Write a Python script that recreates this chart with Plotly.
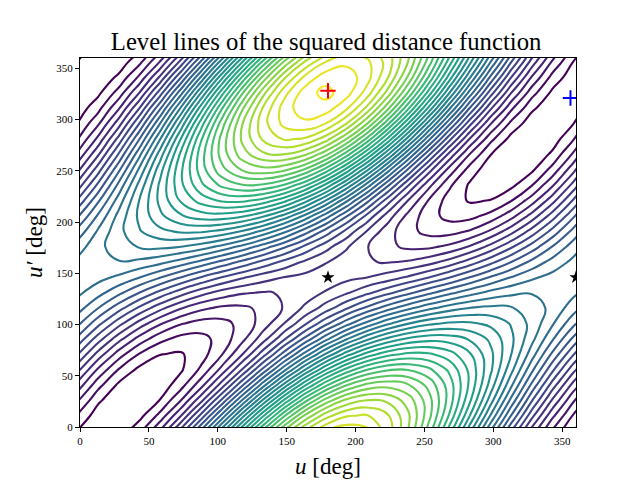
import plotly.graph_objects as go

u_deg = [-2, 13, 28, 43, 58, 73, 88, 103, 118, 133, 148, 163, 178, 193, 208, 223, 238, 253, 268, 283, 298, 313, 328, 343, 358, 373]
up_deg = [-4, 11, 26, 41, 56, 71, 86, 101, 116, 131, 146, 161, 176, 191, 206, 221, 236, 251, 266, 281, 296, 311, 326, 341, 356, 371]
squared_distance = [
    [.97,.14,.39,1.72,4.06,7.30,11.23,15.59,20.08,24.36,28.13,31.08,33.00,33.75,33.28,31.65,29.00,25.54,21.53,17.25,12.98,9.00,5.54,2.81,.97,.14],
    [1.90,.46,.02,.64,2.30,4.91,8.33,12.32,16.62,20.88,24.82,28.12,30.53,31.89,32.11,31.18,29.23,26.39,22.90,18.98,14.91,10.94,7.31,4.23,1.90,.46],
    [3.15,1.21,.16,.09,1.03,2.94,5.73,9.21,13.13,17.20,21.12,24.59,27.35,29.21,30.04,29.81,28.58,26.44,23.57,20.17,16.48,12.70,9.08,5.83,3.15,1.21],
    [4.66,2.37,.81,.12,.36,1.55,3.63,6.48,9.88,13.57,17.30,20.76,23.70,25.91,27.25,27.64,27.11,25.70,23.53,20.77,17.59,14.19,10.76,7.52,4.66,2.37],
    [6.35,3.87,1.95,.74,.36,.84,2.20,4.34,7.11,10.29,13.65,16.91,19.85,22.25,23.95,24.85,24.95,24.24,22.80,20.74,18.20,15.31,12.25,9.21,6.35,3.87],
    [8.10,5.63,3.51,1.94,1.03,.89,1.54,2.95,5.01,7.56,10.41,13.32,16.07,18.47,20.36,21.63,22.24,22.17,21.43,20.11,18.26,16.01,13.46,10.78,8.10,5.63],
    [9.80,7.50,5.38,3.60,2.33,1.66,1.68,2.39,3.73,5.58,7.81,10.20,12.60,14.82,16.73,18.19,19.18,19.62,19.52,18.89,17.78,16.22,14.30,12.12,9.80,7.50],
    [11.30,9.35,7.40,5.61,4.14,3.10,2.60,2.68,3.32,4.46,5.99,7.77,9.67,11.54,13.28,14.76,15.94,16.75,17.17,17.17,16.75,15.91,14.68,13.12,11.30,9.35],
    [12.48,11.03,9.42,7.81,6.32,5.09,4.22,3.78,3.80,4.24,5.07,6.17,7.45,8.83,10.22,11.53,12.72,13.73,14.52,15.03,15.24,15.09,14.57,13.69,12.48,11.03],
    [13.24,12.39,11.28,10.00,8.69,7.45,6.39,5.59,5.10,4.93,5.07,5.46,6.07,6.84,7.74,8.70,9.72,10.74,11.72,12.60,13.31,13.77,13.94,13.77,13.24,12.39],
    [13.50,13.33,12.82,12.04,11.08,10.01,8.95,7.97,7.13,6.45,5.98,5.70,5.60,5.70,5.98,6.45,7.13,7.97,8.95,10.01,11.08,12.04,12.82,13.33,13.50,13.33],
    [13.24,13.77,13.94,13.77,13.31,12.60,11.72,10.74,9.72,8.70,7.74,6.84,6.07,5.46,5.07,4.93,5.10,5.59,6.39,7.45,8.69,10.00,11.28,12.39,13.24,13.77],
    [12.48,13.69,14.57,15.09,15.24,15.03,14.52,13.73,12.72,11.53,10.22,8.83,7.45,6.17,5.07,4.24,3.80,3.78,4.22,5.09,6.32,7.81,9.42,11.03,12.48,13.69],
    [11.30,13.12,14.68,15.91,16.75,17.17,17.17,16.75,15.94,14.76,13.28,11.54,9.67,7.77,5.99,4.46,3.32,2.68,2.60,3.10,4.14,5.61,7.40,9.35,11.30,13.12],
    [9.80,12.12,14.30,16.22,17.78,18.89,19.52,19.62,19.18,18.19,16.73,14.82,12.60,10.20,7.81,5.58,3.73,2.39,1.68,1.66,2.33,3.60,5.38,7.50,9.80,12.12],
    [8.10,10.78,13.46,16.01,18.26,20.11,21.43,22.17,22.24,21.63,20.36,18.47,16.07,13.32,10.41,7.56,5.01,2.95,1.54,.89,1.03,1.94,3.51,5.63,8.10,10.78],
    [6.35,9.21,12.25,15.31,18.20,20.74,22.80,24.24,24.95,24.85,23.95,22.25,19.85,16.91,13.65,10.29,7.11,4.34,2.20,.84,.36,.74,1.95,3.87,6.35,9.21],
    [4.66,7.52,10.76,14.19,17.59,20.77,23.53,25.70,27.11,27.64,27.25,25.91,23.70,20.76,17.30,13.57,9.88,6.48,3.63,1.55,.36,.12,.81,2.37,4.66,7.52],
    [3.15,5.83,9.08,12.70,16.48,20.17,23.57,26.44,28.58,29.81,30.04,29.21,27.35,24.59,21.12,17.20,13.13,9.21,5.73,2.94,1.03,.09,.16,1.21,3.15,5.83],
    [1.90,4.23,7.31,10.94,14.91,18.98,22.90,26.39,29.23,31.18,32.11,31.89,30.53,28.12,24.82,20.88,16.62,12.32,8.33,4.91,2.30,.64,.02,.46,1.90,4.23],
    [.97,2.81,5.54,9.00,12.98,17.25,21.53,25.54,29.00,31.65,33.28,33.75,33.00,31.08,28.13,24.36,20.08,15.59,11.23,7.30,4.06,1.72,.39,.14,.97,2.81],
    [.39,1.63,3.87,6.98,10.79,15.07,19.54,23.92,27.88,31.14,33.46,34.63,34.56,33.25,30.80,27.37,23.26,18.77,14.21,9.92,6.18,3.21,1.20,.25,.39,1.63],
    [.20,.76,2.39,5.01,8.48,12.57,17.05,21.61,25.93,29.69,32.62,34.47,35.35,34.47,32.62,29.69,25.93,21.61,17.05,12.57,8.48,5.01,2.39,.76,.20,.76],
    [.39,.25,1.20,3.21,6.18,9.92,14.21,18.77,23.26,27.37,30.80,33.25,34.56,34.63,33.46,31.14,27.88,23.92,19.54,15.07,10.79,6.98,3.87,1.63,.39,.25],
    [.97,.14,.39,1.72,4.06,7.30,11.23,15.59,20.08,24.36,28.13,31.08,33.00,33.75,33.28,31.65,29.00,25.54,21.53,17.25,12.98,9.00,5.54,2.81,.97,.14],
    [1.90,.46,.02,.64,2.30,4.91,8.33,12.32,16.62,20.88,24.82,28.12,30.53,31.89,32.11,31.18,29.23,26.39,22.90,18.98,14.91,10.94,7.31,4.23,1.90,.46],
]
x_ticks = [0, 50, 100, 150, 200, 250, 300, 350]
y_ticks = [0, 50, 100, 150, 200, 250, 300, 350]
stars_u = [180, 360]
stars_up = [146, 146]
plus_red = ([180], [328])
plus_blue = ([356], [321])

SERIF = "Liberation Serif, DejaVu Serif, serif"

fig = go.Figure()
fig.add_trace(go.Contour(
    x=u_deg, y=up_deg, z=squared_distance,
    autocontour=False,
    contours=dict(start=1, end=35, size=1, coloring="lines", showlabels=False),
    line=dict(width=2.1, smoothing=1.3),
    colorscale="Viridis", zmin=1, zmax=35, showscale=False,
    hoverinfo="skip",
))
fig.add_trace(go.Scatter(x=stars_u, y=stars_up, mode="markers",
                         marker=dict(symbol="star", size=10, color="black"), showlegend=False))
fig.add_trace(go.Scatter(x=plus_red[0], y=plus_red[1], mode="markers",
                         marker=dict(symbol="cross-thin", size=11, line=dict(color="red", width=2)),
                         showlegend=False))
fig.add_trace(go.Scatter(x=plus_blue[0], y=plus_blue[1], mode="markers",
                         marker=dict(symbol="cross-thin", size=11, line=dict(color="blue", width=2)),
                         showlegend=False))

axis = dict(range=[0, 360], showgrid=False, zeroline=False, showline=True, mirror=True,
            linecolor="black", linewidth=1.2, ticks="outside", ticklen=4, tickwidth=1,
            tickcolor="black", tickfont=dict(family=SERIF, size=11, color="black"))
fig.update_layout(
    width=640, height=480, autosize=False,
    margin=dict(l=72, r=72, t=50, b=61, pad=0),
    paper_bgcolor="white", plot_bgcolor="white", showlegend=False,
    title=dict(text="Level lines of the squared distance function", x=0.497, xanchor="center",
               y=0.931, yanchor="middle", font=dict(family=SERIF, size=24.7, color="black")),
    xaxis=dict(axis, tickvals=x_ticks, title=dict(text="<i>u</i> [deg]", standoff=11,
               font=dict(family=SERIF, size=23, color="black"))),
    yaxis=dict(axis, tickvals=y_ticks, title=dict(text="<i>u′</i> [deg]", standoff=7,
               font=dict(family=SERIF, size=23, color="black"))),
)
fig.write_html("out.html")
